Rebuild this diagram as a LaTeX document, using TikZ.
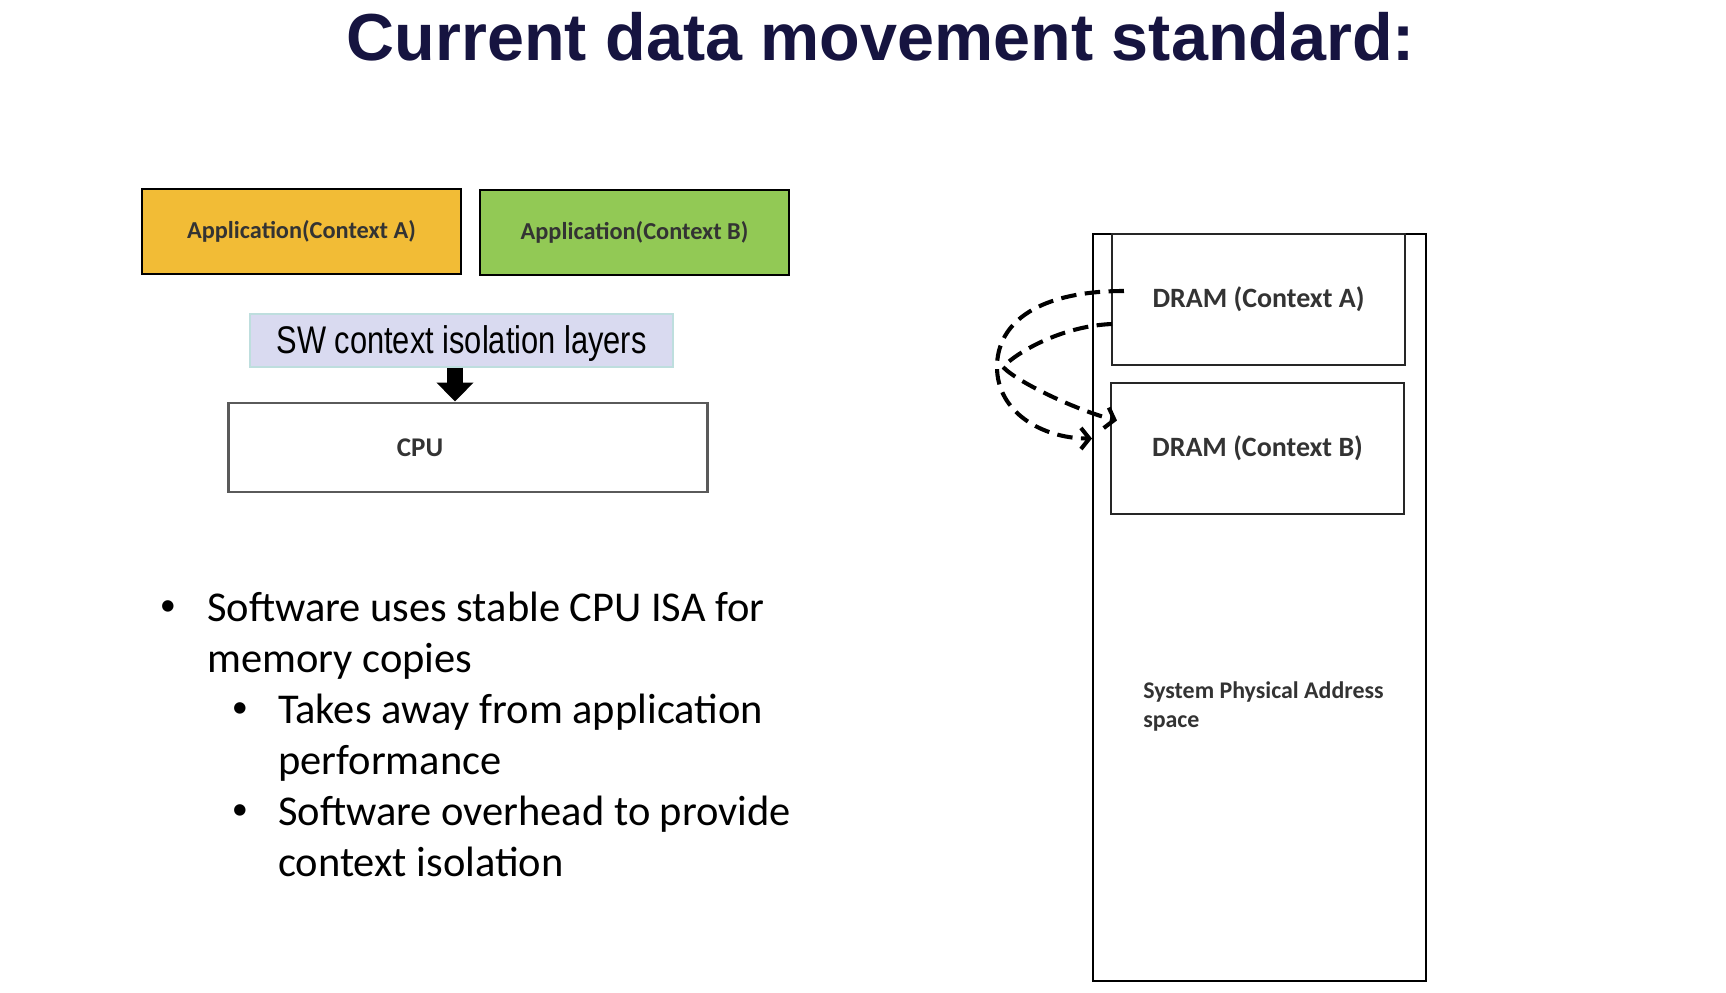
\documentclass[tikz,border=0pt]{standalone}
\usepackage{fontspec}
\setmainfont{Carlito}
\newfontfamily\headfont{Liberation Sans}
\newfontfamily\narrowfont{Liberation Sans}[FakeStretch=0.8]
\usetikzlibrary{arrows.meta}
\definecolor{titleblue}{RGB}{22,20,64}
\definecolor{appyellow}{RGB}{242,188,54}
\definecolor{appgreen}{RGB}{146,201,85}
\definecolor{swlilac}{RGB}{217,218,240}
\definecolor{swedge}{RGB}{190,222,222}
\definecolor{cpugray}{RGB}{90,90,90}
\definecolor{labelgray}{RGB}{51,51,51}

\begin{document}
\begin{tikzpicture}[x=0.025cm, y=-0.025cm,
	appbox/.style={draw=black, line width=1.8pt, minimum height=2.125cm, text=labelgray, font=\fontsize{17.3}{20}\selectfont\bfseries},
	drambox/.style={draw=black!85, line width=1.4pt, minimum width=7.325cm, minimum height=3.275cm, text=labelgray, font=\fontsize{19.9}{24}\selectfont\bfseries},
	bullettext/.style={anchor=base west, inner sep=0pt, font=\fontsize{30.2}{36}\selectfont},
	bulletdot/.style={anchor=center, inner sep=0pt, font=\fontsize{23}{28}\selectfont},
	systext/.style={anchor=base west, inner sep=0pt, text=labelgray, font=\fontsize{17}{20}\selectfont\bfseries},
	swapline/.style={line width=2.9pt, dash pattern=on 11pt off 6pt, -{Straight Barb[length=6pt, width=15pt]}}]
	\useasboundingbox (0,0) rectangle (1726,992);
	\node[anchor=base, text=titleblue, font=\headfont\bfseries\fontsize{47.3}{56}\selectfont] (title) at (881,61) {Current data movement standard:};

	\node[appbox, fill=appyellow, minimum width=7.975cm] (appa) at (301.5,231.5) {Application(Context A)};
	\node[appbox, fill=appgreen, minimum width=7.725cm] (appb) at (634.5,232.5) {Application(Context B)};
	\node[fill=swlilac, draw=swedge, line width=1pt, minimum width=10.575cm, minimum height=1.325cm, text depth=0.12em, font=\narrowfont\fontsize{27.4}{32}\selectfont] (sw) at (461.5,340.5) {SW context isolation layers};
	\node[draw=cpugray, line width=2.1pt, minimum width=11.95cm, minimum height=2.225cm] (cpu) at (468,447.5) {};
	\node[text=labelgray, font=\fontsize{19.2}{23}\selectfont\bfseries] (cputext) at (420,448) {CPU};
	\draw[line width=11.4pt, -{Triangle[length=13.5pt, width=25.6pt]}] ([xshift=-0.1625cm]sw.south) -- ([xshift=-0.1625cm]sw.south |- cpu.north);

	\node[bulletdot] (dot1) at (168,608) {•};
	\node[bullettext] (item1) at (207,621) {Software uses stable CPU ISA for};
	\node[bullettext] (item1b) at (207,672) {memory copies};
	\node[bulletdot] (dot2) at (240,710) {•};
	\node[bullettext] (item2) at (278,723) {Takes away from application};
	\node[bullettext] (item2b) at (278,774) {performance};
	\node[bulletdot] (dot3) at (240,812) {•};
	\node[bullettext] (item3) at (278,825) {Software overhead to provide};
	\node[bullettext] (item3b) at (278,876) {context isolation};

	\node[draw=black, line width=1.5pt, minimum width=8.325cm, minimum height=18.675cm] (mem) at (1259.5,607.5) {};
	\node[drambox] (drama) at (1258.5,299.5) {DRAM (Context A)};
	\node[drambox] (dramb) at (1257.5,448.5) {DRAM (Context B)};
	\node[systext] (sys1) at (1143,698) {System Physical Address};
	\node[systext] (sys2) at (1143,727) {space};

	\coordinate (loopa) at (997,367);
	\coordinate (loopb) at (1003,367);
	\draw[swapline] ([shift={(13,58)}]drama.north west) .. controls +(-85,0) and +(0,-45) .. (loopa) .. controls +(0,45) and +(-50,0) .. ([shift={(-18,-10)}]dramb.west);
	\draw[swapline] ([shift={(1,24.5)}]drama.west) .. controls +(-50,2) and +(14,-15) .. (loopb) .. controls +(14,15) and +(-40,-10) .. ([shift={(7,-28)}]dramb.west);
\end{tikzpicture}
\end{document}
